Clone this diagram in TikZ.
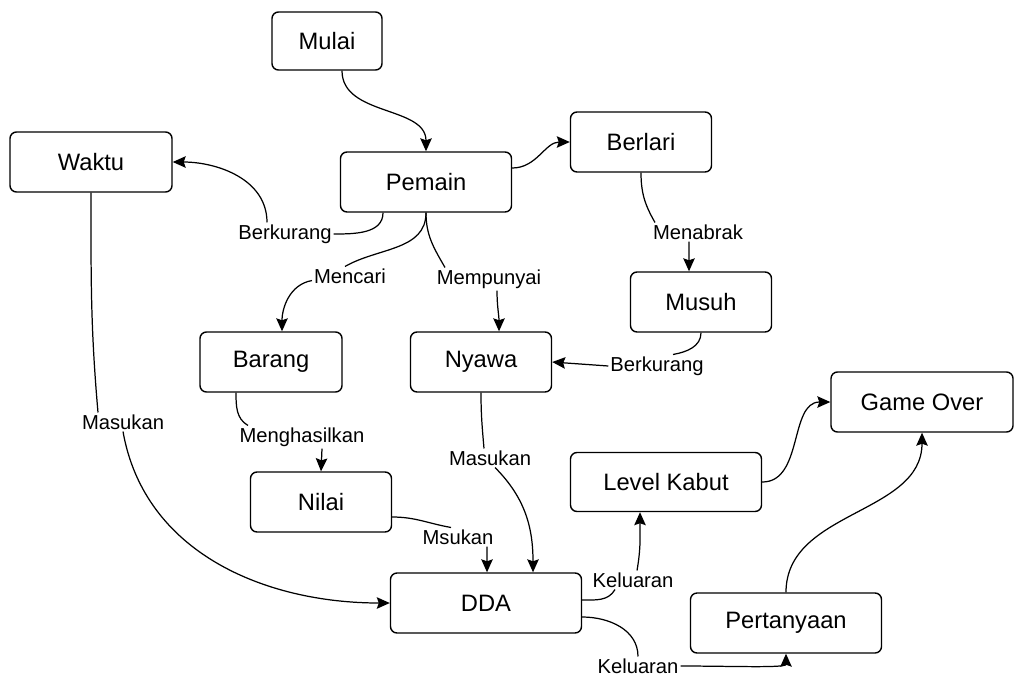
\documentclass[tikz,border=0pt]{standalone}
\usepackage{fontspec}
\setmainfont{Liberation Sans}
\usetikzlibrary{positioning}
\usetikzlibrary{arrows.meta}

\tikzset{
    box/.style={draw, rounded corners=1.3mm, line width=0.8pt, minimum height=12mm, inner sep=0pt, font=\fontsize{13.5}{16}\selectfont},
    lbl/.style={inner sep=1pt, font=\fontsize{11.5}{14}\selectfont},
    conn/.style={line width=0.7pt},
    >={Stealth[length=2.6mm,width=2.3mm,inset=0.4mm]}
}

\begin{document}
\begin{tikzpicture}[x=0.2mm, y=0.2mm]
    \useasboundingbox (0,0) rectangle (1015,-679);

    \node[box, minimum width=22mm, minimum height=11.6mm] (Mulai) at (327,-41) {Mulai};
    \node[box, minimum width=34.2mm] (Pemain) at (426,-182) {Pemain};
    \node[box, minimum width=32.4mm] (Waktu) at (91,-162) {Waktu};
    \node[box, minimum width=28.2mm] (Berlari) at (641,-142) {Berlari};
    \node[box, minimum width=28.2mm] (Musuh) at (701,-302) {Musuh};
    \node[box, minimum width=28.4mm] (Barang) at (271,-362) {Barang};
    \node[box, minimum width=28.2mm] (Nyawa) at (481,-362) {Nyawa};
    \node[box, minimum width=28.2mm] (Nilai) at (321,-502) {Nilai};
    \node[box, minimum width=38.2mm, minimum height=11.8mm] (LevelKabut) at (666,-482) {Level Kabut};
    \node[box, minimum width=36.4mm] (GameOver) at (922,-402) {Game Over};
    \node[box, minimum width=38.2mm] (DDA) at (486,-603) {DDA};
    \node[box, minimum width=38.2mm] (Pertanyaan) at (786,-623) {Pertanyaan};

    \node[lbl] (lBerkurangA) at (285,-234) {Berkurang};
    \node[lbl] (lMencari) at (350,-276) {Mencari};
    \node[lbl] (lMempunyai) at (489,-279) {Mempunyai};
    \node[lbl] (lMenabrak) at (698,-232) {Menabrak};
    \node[lbl] (lBerkurangB) at (657,-366) {Berkurang};
    \node[lbl] (lMenghasilkan) at (302,-437) {Menghasilkan};
    \node[lbl] (lMasukanA) at (123,-422) {Masukan};
    \node[lbl] (lMasukanB) at (490,-458) {Masukan};
    \node[lbl] (lMsukan) at (458,-537) {Msukan};
    \node[lbl] (lKeluaranA) at (633,-580) {Keluaran};
    \node[lbl] (lKeluaranB) at (638,-666) {Keluaran};

    \draw[conn,->] ([xshift=3mm]Mulai.south) to[out=-90,in=90] (Pemain.north);
    \draw[conn,->] ([yshift=2.8mm]Pemain.east) to[out=0,in=180] (Berlari.west);

    \draw[conn] ([xshift=-8.6mm]Pemain.south) to[out=-90,in=0] (lBerkurangA.east);
    \draw[conn,->] ([xshift=-3.6mm]lBerkurangA.north) to[out=90,in=0] (Waktu.east);

    \draw[conn] (Pemain.south) to[out=-90,in=30] ([xshift=-1mm]lMencari.north);
    \draw[conn,->] ([yshift=1mm]lMencari.south west) to[out=190,in=90] ([xshift=2.2mm]Barang.north);

    \draw[conn] (Pemain.south) to[out=-90,in=120] ([xshift=-8.8mm]lMempunyai.north);
    \draw[conn,->] ([xshift=1.6mm]lMempunyai.south) to[out=-90,in=90] ([xshift=3.6mm]Nyawa.north);

    \draw[conn] (Berlari.south) to[out=-90,in=120] ([xshift=-8.6mm]lMenabrak.north);
    \draw[conn,->] ([xshift=-1.8mm]lMenabrak.south) -- ([xshift=-2.4mm]Musuh.north);

    \draw[conn] (Musuh.south) to[out=-90,in=10] ([xshift=3.2mm]lBerkurangB.north);
    \draw[conn,->] (lBerkurangB.west) -- (Nyawa.east);

    \draw[conn] ([xshift=-7mm]Barang.south) to[out=-90,in=150] ([xshift=-10.8mm]lMenghasilkan.north);
    \draw[conn,->] ([xshift=4mm]lMenghasilkan.south) -- (Nilai.north);

    \draw[conn] (Nyawa.south) to[out=-90,in=95] ([xshift=-1.2mm]lMasukanB.north);
    \draw[conn,->] ([xshift=1mm]lMasukanB.south) to[out=-45,in=90] ([xshift=9.4mm]DDA.north);

    \draw[conn] ([yshift=-3mm]Nilai.east) to[out=0,in=170] ([xshift=-1.4mm]lMsukan.north);
    \draw[conn,->] ([xshift=5.8mm]lMsukan.south) -- ([xshift=0.2mm]DDA.north);

    \draw[conn] (Waktu.south) to[out=-90,in=95] ([xshift=-5mm]lMasukanA.north);
    \draw[conn,->] (lMasukanA.south) to[out=-80,in=180] (DDA.west);

    \draw[conn] ([yshift=0.6mm]DDA.east) to[out=0,in=-120] ([xshift=-3.6mm]lKeluaranA.south);
    \draw[conn,->] ([xshift=0.8mm]lKeluaranA.north) to[out=80,in=-90] ([xshift=-5.2mm]LevelKabut.south);

    \draw[conn] ([yshift=-2.8mm]DDA.east) to[out=0,in=90] (lKeluaranB.north);
    \draw[conn,->] (lKeluaranB.east) to[out=0,in=-90,out looseness=1.2,in looseness=0.35] (Pertanyaan.south);

    \draw[conn,->] (LevelKabut.east) to[out=0,in=180] (GameOver.west);
    \draw[conn,->] (Pertanyaan.north) to[out=90,in=-90] (GameOver.south);
\end{tikzpicture}
\end{document}
